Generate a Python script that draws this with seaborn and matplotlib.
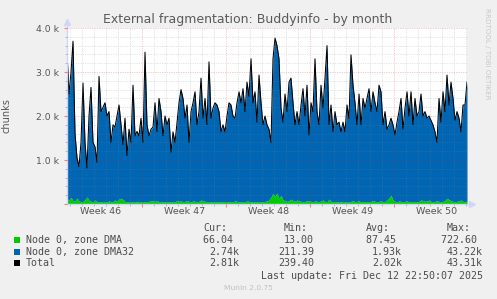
import numpy as np
import pandas as pd
import matplotlib
matplotlib.use("Agg")
import matplotlib.pyplot as plt
import matplotlib.dates as mdates
from matplotlib.patches import Rectangle
from matplotlib.ticker import MultipleLocator, FuncFormatter
import seaborn as sns

total_vals = [
    3450, 2500, 3000, 3700, 1600, 1050, 850, 1400, 2750, 1400, 820, 2000, 2650,
    1400, 1300, 950, 2900, 2100, 2200, 2300, 2000, 2100, 1400, 1800, 1750,
    2000, 2250, 1800, 1350, 1950, 1100, 1700, 1400, 2700, 1550, 1650, 1550, 1950,
    1400, 3450, 1800, 1550, 1700, 1750, 2300, 1650, 2400, 2100, 1550, 2000, 1800,
    1950, 1180, 1640, 1400, 1860, 2300, 2600, 2400, 1950, 2250, 1400, 2100, 2300,
    2550, 1800, 2100, 2860, 1950, 2400, 1800, 3230, 1950, 2180, 2300, 2250,
    2100, 1640, 1800, 1640, 2000, 2300, 2250, 2000, 1950, 2300, 2550, 2300, 2620,
    2100, 2770, 2450, 3300, 2300, 2550, 1860, 2930, 2300, 1800, 2000, 1800,
    1700, 1400, 3300, 3770, 3600, 3300, 2180, 1860, 2500, 2100, 2770, 2860, 2300,
    1800, 2100, 1800, 2250, 2620, 2000, 2700, 1570, 2300, 2100, 3300, 2100,
    1800, 2700, 2180, 2860, 3600, 1800, 2250, 1640, 2100, 1800, 1860, 1640, 1860,
    1640, 2250, 1950, 3390, 2700, 2300, 1800, 2500, 1800, 2400, 2180, 2400,
    2620, 2100, 2550, 2300, 2100, 2700, 2550, 1800, 2100, 1700, 1800, 1950, 1800,
    1570, 1860, 2100, 2400, 1700, 2180, 2550, 2000, 2550, 1800, 2400, 2000,
    2100, 2500, 2000, 2100, 1950, 2000, 1900, 1800, 1640, 1400, 2400, 1860, 2550,
    2100, 2930, 2250, 2770, 2400, 1900, 2100, 1950, 1640, 2250, 2250, 2770,
]
dma_vals = [
    120, 90, 150, 80, 60, 140, 70, 50, 60, 100, 160, 80, 60, 50, 90, 60, 40, 50,
    60, 40, 50, 70, 50, 60, 90,
    60, 110, 130, 100, 60, 50, 40, 50, 60, 40, 50, 60, 50, 40, 60, 50, 60, 80,
    70, 60, 80, 50, 60, 40, 50, 60,
    50, 40, 60, 50, 80, 60, 70, 50, 60, 80, 60, 50, 70, 60, 50, 60, 90, 70, 60,
    50, 60, 50, 40, 60, 50,
    60, 40, 50, 60, 50, 40, 60, 50, 70, 60, 50, 40, 60, 50, 70, 60, 50, 40, 60,
    50, 60, 40, 50, 60, 70,
    90, 160, 240, 180, 250, 120, 200, 90, 80, 60, 70, 110, 80, 60, 90, 70, 60,
    50, 60, 70, 80, 60, 50, 70, 60,
    50, 70, 90, 60, 50, 110, 60, 50, 60, 50, 40, 50, 60, 50, 40, 50, 60, 80, 50,
    60, 70, 50, 60, 50, 60,
    50, 60, 80, 60, 50, 60, 70, 50, 60, 90, 130, 200, 90, 60, 50, 70, 60, 50, 60,
    70, 50, 60, 50, 60, 50,
    60, 90, 80, 60, 70, 90, 60, 50, 60, 70, 60, 50, 60, 80, 130, 100, 70, 60, 50,
    60, 70, 90, 60, 50, 66,
]
week_labels = ["Week 46", "Week 47", "Week 48", "Week 49", "Week 50"]
legend_names = ["Node 0, zone DMA", "Node 0, zone DMA32", "Total"]
legend_cur = ["66.04 ", "2.74k", "2.81k"]
legend_min = ["13.00", "211.39", "239.40"]
legend_avg = ["87.45 ", "1.93k", "2.02k"]
legend_max = ["722.60 ", "43.22k", "43.31k"]
colors = ["#00CC00", "#0066B3", "#000000"]

end = pd.Timestamp("2025-12-13 01:20")
start = end - pd.Timedelta(hours=800)
times = pd.date_range(start, periods=len(total_vals), freq="4h")
total = np.array(total_vals, dtype=float)
dma = np.array(dma_vals, dtype=float)

W, H = 497, 299
fig = plt.figure(figsize=(W / 100, H / 100), dpi=100, facecolor="#F0F0F0")
ax = fig.add_axes([67 / W, (H - 204) / H, 400 / W, 176 / H])
ax.set_facecolor("white")

ax.fill_between(times, 0, dma, color=colors[0], linewidth=0)
ax.fill_between(times, dma, total, color=colors[1], linewidth=0)
sns.lineplot(x=times, y=total, color="black", linewidth=0.75, ax=ax)

ax.set_xlim(start, end)
ax.set_ylim(0, 4000)

# Raster: Tage grau, Wochen rot
week_starts = pd.date_range("2025-11-16", "2025-12-07", freq="7D")
days = pd.date_range("2025-11-10", "2025-12-13", freq="1D")
ax.set_xticks(week_starts)
ax.set_xticks(days, minor=True)
ax.xaxis.set_major_formatter(FuncFormatter(lambda v, p: ""))
ax.yaxis.set_major_locator(MultipleLocator(1000))
ax.yaxis.set_minor_locator(MultipleLocator(200))
ax.yaxis.set_major_formatter(FuncFormatter(lambda v, p: "" if v == 0 else f"{v/1000:.1f} k"))

ax.set_axisbelow(False)
ax.grid(which="minor", color="#808080", alpha=0.4, linestyle=(0, (0.7, 1.4)), linewidth=0.6)
ax.grid(which="major", color="#F00000", alpha=0.4, linestyle=(0, (0.7, 1.4)), linewidth=0.6)

ax.tick_params(axis="both", which="major", length=2, color="#F08080",
               labelsize=6.7, labelcolor="#555555", pad=4)
ax.tick_params(axis="both", which="minor", length=1.5, color="#B0B0B0")
ax.set_xlabel("")
ax.set_ylabel("chunks", fontsize=7, color="#555555")
ax.yaxis.set_label_coords(-55 / 400, 0.5)

for side in ["top", "right"]:
    ax.spines[side].set_visible(False)
for side in ["left", "bottom"]:
    ax.spines[side].set_color("#CFD6F8")
    ax.spines[side].set_linewidth(1)

# Pfeile an den Achsen
ax.plot([0, 0], [1, 1.03], color="#CFD6F8", lw=1, transform=ax.transAxes, clip_on=False)
ax.plot([0], [1.035], marker="^", ms=4, color="#CFD6F8", transform=ax.transAxes, clip_on=False)
ax.plot([1, 1.01], [0, 0], color="#CFD6F8", lw=1, transform=ax.transAxes, clip_on=False)
ax.plot([1.012], [0], marker=">", ms=4, color="#CFD6F8", transform=ax.transAxes, clip_on=False)

# Wochenbeschriftung in der Wochenmitte
label_pos = week_starts[0] - pd.Timedelta(hours=84) + pd.to_timedelta(np.arange(5) * 7, unit="D")
for lbl, t in zip(week_labels, label_pos):
    ax.text(mdates.date2num(t), -0.045, lbl, transform=ax.get_xaxis_transform(),
            ha="center", va="center", fontsize=6.8, color="#555555")


def fx(x):
    return x / W


def fy(y):
    return 1 - y / H


fig.text(fx(248), fy(19), "External fragmentation: Buddyinfo - by month",
         ha="center", va="center", fontsize=9, color="#5a5a5a")
fig.text(fx(487), fy(54), "RRDTOOL / TOBI OETIKER", rotation=270,
         ha="center", va="center", fontsize=5.1, color="#c8c8c8")

mono = dict(family="DejaVu Sans Mono", fontsize=7.2, color="#4d4d4d", va="center")
for txt, x in zip(["Cur:", "Min:", "Avg:", "Max:"], [203, 284, 366, 447]):
    fig.text(fx(x), fy(228), txt, ha="left", **mono)
rows_y = [240, 251.7, 263.3]
for i, y in enumerate(rows_y):
    fig.add_artist(Rectangle((fx(14), fy(y + 3)), 6 / W, 6 / H, transform=fig.transFigure,
                             facecolor=colors[i], edgecolor="none"))
    fig.text(fx(26), fy(y), legend_names[i], ha="left", **mono)
    fig.text(fx(239), fy(y), legend_cur[i], ha="right", **mono)
    fig.text(fx(314), fy(y), legend_min[i], ha="right", **mono)
    fig.text(fx(402), fy(y), legend_avg[i], ha="right", **mono)
    fig.text(fx(483), fy(y), legend_max[i], ha="right", **mono)
fig.text(fx(483), fy(275.7), "Last update: Fri Dec 12 22:50:07 2025", ha="right", **mono)
fig.text(fx(248), fy(288.3), "Munin 2.0.75", ha="center", va="center",
         fontsize=5.4, color="#c0c0c0")

fig.savefig("out.png", dpi=100, facecolor=fig.get_facecolor())
